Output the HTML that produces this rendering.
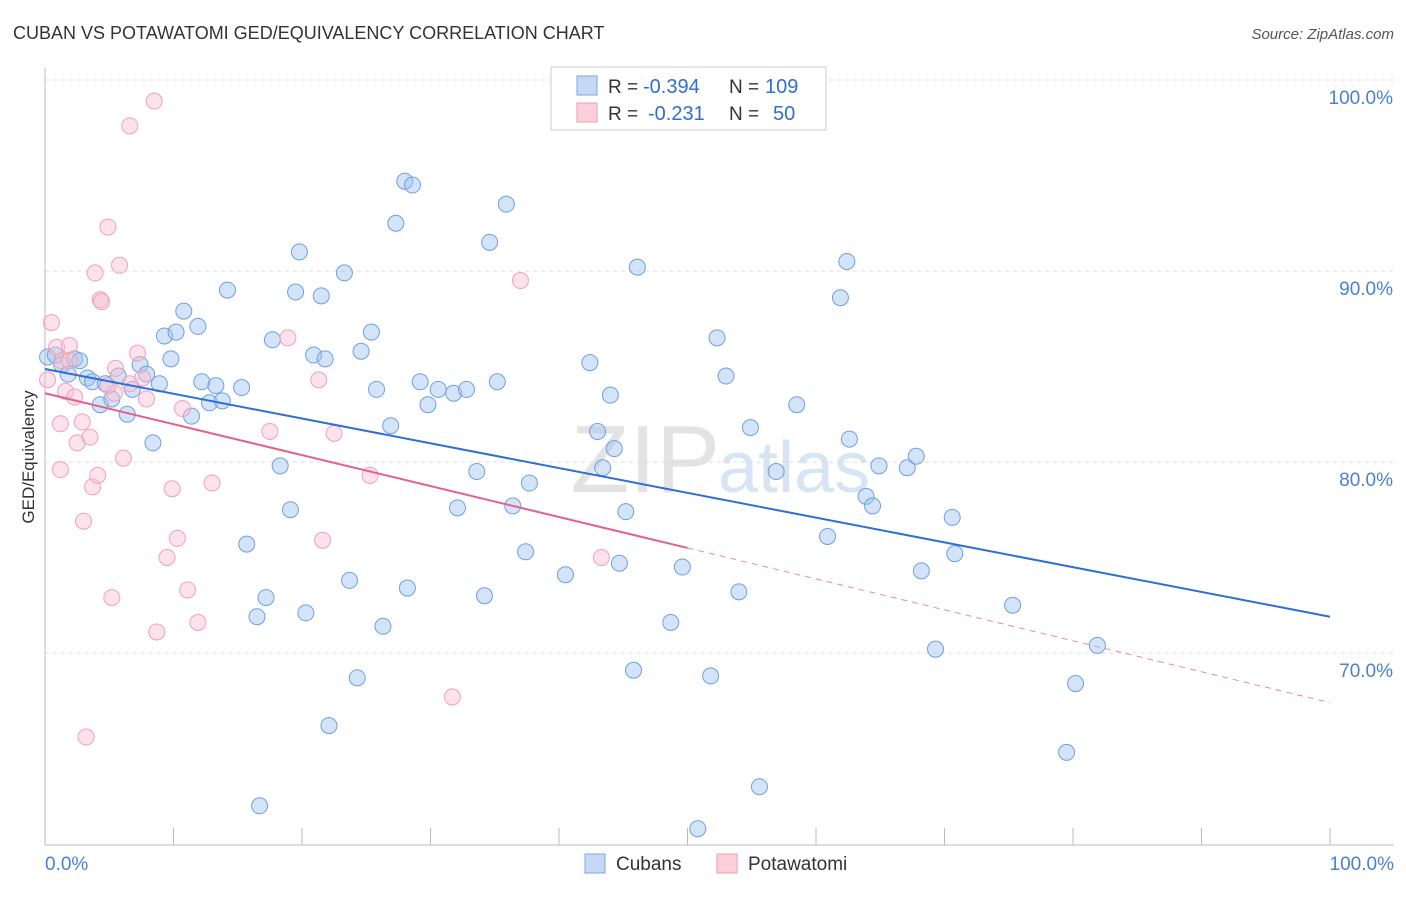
<!DOCTYPE html>
<html><head><meta charset="utf-8"><style>
body{margin:0;background:#fff;font-family:"Liberation Sans",sans-serif;}
svg text{font-family:"Liberation Sans",sans-serif;}
</style></head><body>
<svg id="chart" width="1406" height="892" viewBox="0 0 1406 892">
<text x="13" y="39" font-size="18" fill="#333">CUBAN VS POTAWATOMI GED/EQUIVALENCY CORRELATION CHART</text>
<text x="1394" y="39" font-size="15" fill="#555" font-style="italic" text-anchor="end">Source: ZipAtlas.com</text>
<text x="720" y="492" font-size="96" fill="#e3e3e3" text-anchor="end" font-family="Liberation Serif">ZIP</text>
<text x="718" y="492" font-size="72" fill="#d6e4f3">atlas</text>
<g id="grid"></g>
<g id="axes"></g>
<g id="marks"></g>
<text x="34" y="457" font-size="17" fill="#333" text-anchor="middle" transform="rotate(-90 34 457)">GED/Equivalency</text>
<text x="45" y="870" font-size="19" fill="#4a7fd4">0.0%</text>
<text x="1394" y="870" font-size="19" fill="#4a7fd4" text-anchor="end">100.0%</text>
<g>
<rect x="551" y="67" width="275" height="63" fill="#fff" stroke="#ccc"/>
<rect x="577" y="76" width="20" height="19" fill="#c5d9f5" stroke="#7aa6e6"/>
<rect x="577" y="103" width="20" height="19" fill="#fbd0dc" stroke="#f09ab4"/>
<text x="608" y="93" font-size="19" fill="#333">R =</text>
<text x="643" y="93" font-size="20" fill="#2f6fd0">-0.394</text>
<text x="729" y="93" font-size="19" fill="#333">N =</text>
<text x="765" y="93" font-size="20" fill="#2f6fd0">109</text>
<text x="608" y="120" font-size="19" fill="#333">R =</text>
<text x="648" y="120" font-size="20" fill="#2f6fd0">-0.231</text>
<text x="729" y="120" font-size="19" fill="#333">N =</text>
<text x="773" y="120" font-size="20" fill="#2f6fd0">50</text>
</g>
<g>
<rect x="585" y="854" width="20" height="19" fill="#c5d9f5" stroke="#7aa6e6"/>
<text x="616" y="870" font-size="19" fill="#333">Cubans</text>
<rect x="717" y="854" width="20" height="19" fill="#fbd0dc" stroke="#f09ab4"/>
<text x="748" y="870" font-size="19" fill="#333">Potawatomi</text>
</g>
</svg>
<script>
const yTicks=[70,80,90,100];
const yTickLabels=["70.0%","80.0%","90.0%","100.0%"];
const xTicks=[10,20,30,40,50,60,70,80,90,100];
const cubanX=[0.2,0.8,1.3,1.8,2.3,2.7,3.3,3.7,4.3,4.7,5.2,5.7,6.4,6.8,7.4,7.9,8.4,8.9,9.3,9.8,10.2,10.8,11.4,11.9,12.2,12.8,13.3,13.8,14.2,15.3,15.7,16.5,16.7,17.2,17.7,18.3,19.1,19.5,19.8,20.3,20.9,21.5,21.8,22.1,23.3,23.7,24.3,24.6,25.4,25.8,26.3,26.9,27.3,28.0,28.2,28.6,29.2,29.8,30.6,31.8,32.1,32.8,33.6,34.2,34.6,35.2,35.9,36.4,37.4,37.7,40.5,42.4,43.0,43.4,44.0,44.3,44.7,45.2,45.8,46.1,48.7,49.6,50.8,51.8,52.3,53.0,54.0,54.9,55.6,56.9,58.5,60.9,61.9,62.4,62.6,63.9,64.4,64.9,67.1,67.8,68.2,69.3,70.6,70.8,75.3,79.5,80.2,81.9];
const cubanY=[85.5,85.6,85.1,84.6,85.4,85.3,84.4,84.2,83.0,84.1,83.3,84.5,82.5,83.8,85.1,84.6,81.0,84.1,86.6,85.4,86.8,87.9,82.4,87.1,84.2,83.1,84.0,83.2,89.0,83.9,75.7,71.9,62.0,72.9,86.4,79.8,77.5,88.9,91.0,72.1,85.6,88.7,85.4,66.2,89.9,73.8,68.7,85.8,86.8,83.8,71.4,81.9,92.5,94.7,73.4,94.5,84.2,83.0,83.8,83.6,77.6,83.8,79.5,73.0,91.5,84.2,93.5,77.7,75.3,78.9,74.1,85.2,81.6,79.7,83.5,80.7,74.7,77.4,69.1,90.2,71.6,74.5,60.8,68.8,86.5,84.5,73.2,81.8,63.0,79.5,83.0,76.1,88.6,90.5,81.2,78.2,77.7,79.8,79.7,80.3,74.3,70.2,77.1,75.2,72.5,64.8,68.4,70.4];
const potX=[0.5,0.2,0.9,1.3,1.6,1.2,1.2,1.9,2.3,2.5,2.9,3.0,3.2,3.5,3.7,3.9,4.1,4.3,4.4,4.9,5.2,5.4,5.8,6.1,6.6,7.2,7.9,8.5,8.7,9.5,9.9,10.3,10.7,11.1,11.9,13.0,17.5,18.9,21.3,21.6,22.5,25.3,31.7,37.0,43.3,7.6,5.5,6.6,4.9,1.9];
const potY=[87.3,84.3,86.0,85.3,83.7,82.0,79.6,86.1,83.4,81.0,82.1,76.9,65.6,81.3,78.7,89.9,79.3,88.5,88.4,92.3,72.9,83.6,90.3,80.2,97.6,85.7,83.3,98.9,71.1,75.0,78.6,76.0,82.8,73.3,71.6,78.9,81.6,86.5,84.3,75.9,81.5,79.3,67.7,89.5,75.0,84.4,84.9,84.1,84.0,85.3];
const cubanTrend=[84.87,71.9];
const potTrend=[83.6,67.4];
const potSolidEnd=50;

const NS="http://www.w3.org/2000/svg";
const xs=v=>45+v*12.85;
const ys=v=>271-(v-90)*19.1;
function mk(tag,attrs,parent){const e=document.createElementNS(NS,tag);for(const k in attrs)e.setAttribute(k,attrs[k]);parent.appendChild(e);return e;}
const grid=document.getElementById('grid'),axes=document.getElementById('axes'),marks=document.getElementById('marks');
yTicks.forEach((t,i)=>{
 const l=mk('line',{x1:45,x2:1394,y1:ys(t),y2:ys(t),stroke:'#ddd','stroke-dasharray':'4,4'},grid);
 
 
 const tx=mk('text',{x:1393,y:ys(t)+24,'font-size':19,fill:'#4a7fd4','text-anchor':'end'},grid);
 tx.textContent=yTickLabels[i];
 
 
});
const ax=mk('line',{x1:45,x2:45,y1:68,y2:845,stroke:'#bbb'},axes);


const bx=mk('line',{x1:45,x2:1394,y1:845,y2:845,stroke:'#bbb'},axes);


xTicks.forEach(t=>{
 const l=mk('line',{x1:xs(t),x2:xs(t),y1:828,y2:845,stroke:'#bbb'},axes);
 
 
});
cubanX.forEach((x,i)=>{
 const c=mk('circle',{cx:xs(x),cy:ys(cubanY[i]),r:8,fill:'rgba(160,196,240,0.45)',stroke:'#6f9fe0','stroke-width':1},marks);
 
 
});
potX.forEach((x,i)=>{
 const c=mk('circle',{cx:xs(x),cy:ys(potY[i]),r:8,fill:'rgba(248,190,208,0.45)',stroke:'#f0a0ba','stroke-width':1},marks);
 
 
});
const bl=mk('line',{x1:xs(0),y1:ys(cubanTrend[0]),x2:xs(100),y2:ys(cubanTrend[1]),stroke:'#2d6fd6','stroke-width':2},marks);


const pm=potTrend[0]+(potTrend[1]-potTrend[0])*potSolidEnd/100;
const pl=mk('line',{x1:xs(0),y1:ys(potTrend[0]),x2:xs(potSolidEnd),y2:ys(pm),stroke:'#e5608c','stroke-width':2},marks);


const pd=mk('line',{x1:xs(potSolidEnd),y1:ys(pm),x2:xs(100),y2:ys(potTrend[1]),stroke:'#e88aa8','stroke-width':1,'stroke-dasharray':'6,5'},marks);


</script>
</body></html>
